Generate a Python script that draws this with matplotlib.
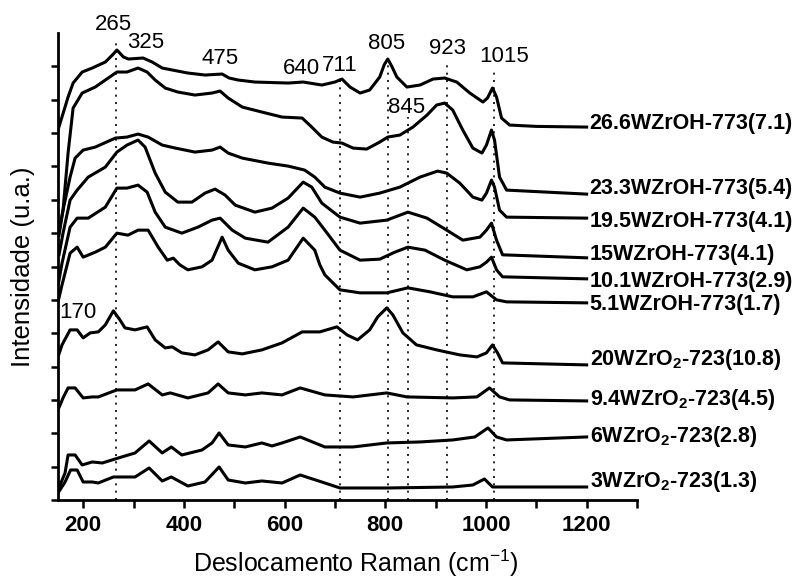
import matplotlib
matplotlib.use("Agg")
import matplotlib.pyplot as plt

plt.rcParams['font.family'] = ['Liberation Sans', 'DejaVu Sans']
plt.rcParams['mathtext.default'] = 'regular'

# Raman shift (cm-1) / stacked intensity (u.a.), top to bottom
wn1 = [150, 170, 180, 198, 218, 244, 258, 267, 280, 290, 319, 337, 357, 377, 408, 442, 476, 490, 508, 541,
       607, 637, 674, 700, 714, 730, 750, 769, 789, 798, 805, 813, 823, 843, 869, 895, 918, 942, 968, 994,
       1003, 1013, 1021, 1031, 1047, 1100, 1200]
in1 = [11.09, 12.08, 12.50, 12.83, 12.95, 13.13, 13.34, 13.49, 13.28, 13.22, 13.25, 13.13, 12.95, 12.89, 12.80,
       12.74, 12.77, 12.65, 12.59, 12.53, 12.50, 12.53, 12.44, 12.53, 12.62, 12.38, 12.20, 12.29, 12.68, 13.05,
       13.22, 13.00, 12.68, 12.38, 12.44, 12.62, 12.65, 12.53, 12.20, 11.93, 12.05, 12.35, 12.08, 11.45, 11.24,
       11.20, 11.18]

wn2 = [152, 160, 170, 180, 198, 224, 244, 267, 287, 309, 327, 343, 363, 388, 422, 456, 472, 488, 516, 555,
       595, 635, 654, 674, 696, 714, 736, 763, 789, 805, 829, 855, 883, 902, 918, 934, 954, 974, 992, 1001,
       1011, 1017, 1027, 1041, 1200]
in2 = [7.94, 8.69, 10.40, 11.75, 12.20, 12.38, 12.59, 12.83, 12.83, 12.95, 12.83, 12.59, 12.35, 12.23, 12.14,
       12.20, 12.26, 12.05, 11.78, 11.63, 11.48, 11.45, 11.18, 10.88, 10.73, 10.70, 10.55, 10.52, 10.73, 10.88,
       10.94, 11.18, 11.54, 11.84, 11.90, 11.69, 11.09, 10.55, 10.40, 10.64, 11.09, 10.79, 9.68, 9.29, 9.17]

wn3 = [152, 160, 174, 184, 200, 224, 264, 287, 309, 329, 357, 383, 422, 456, 472, 488, 516, 567, 607, 640,
       660, 680, 710, 750, 789, 829, 869, 904, 922, 948, 974, 992, 1001, 1011, 1017, 1027, 1041, 1200]
in3 = [8.09, 8.69, 9.68, 10.25, 10.49, 10.58, 10.85, 10.88, 10.97, 10.88, 10.64, 10.55, 10.43, 10.49, 10.58,
       10.40, 10.25, 10.10, 10.01, 9.89, 9.68, 9.38, 9.20, 9.08, 9.20, 9.38, 9.68, 9.86, 9.80, 9.50,
       9.08, 8.99, 9.20, 9.59, 9.38, 8.69, 8.48, 8.45]

wn4 = [152, 160, 174, 188, 210, 244, 267, 287, 309, 323, 343, 363, 388, 416, 442, 462, 482, 502, 541, 575,
       607, 637, 654, 674, 710, 750, 803, 845, 883, 922, 954, 988, 1001, 1011, 1021, 1033, 1200]
in4 = [7.35, 8.00, 8.99, 9.29, 9.68, 9.98, 10.43, 10.64, 10.79, 10.58, 9.80, 9.23, 8.93, 8.93, 9.20,
       9.32, 9.14, 8.84, 8.63, 8.75, 9.05, 9.53, 9.38, 8.90, 8.48, 8.30, 8.39, 8.63, 8.45, 8.09,
       7.79, 7.88, 8.09, 8.30, 7.79, 7.35, 7.26]

wn5 = [151, 158, 174, 188, 210, 244, 267, 287, 309, 327, 343, 363, 396, 428, 456, 472, 496, 522, 567, 607,
       637, 660, 680, 710, 750, 789, 819, 845, 879, 918, 962, 988, 1001, 1011, 1021, 1033, 1200]
in5 = [6.50, 7.10, 8.18, 8.45, 8.45, 8.78, 9.35, 9.35, 9.44, 9.23, 8.63, 8.18, 8.00, 8.18, 8.39,
       8.45, 8.09, 7.85, 7.73, 8.18, 8.75, 8.48, 8.09, 7.49, 7.19, 7.22, 7.43, 7.58, 7.49, 7.19,
       6.90, 6.99, 7.13, 7.28, 6.90, 6.69, 6.63]

wn6 = [151, 158, 174, 188, 200, 224, 244, 267, 289, 309, 329, 349, 367, 379, 392, 408, 436, 456, 476, 488,
       508, 541, 575, 607, 637, 660, 670, 680, 710, 750, 803, 845, 889, 934, 974, 1001, 1021, 1041, 1200]
in6 = [6.00, 6.45, 7.40, 7.58, 7.28, 7.43, 7.58, 8.00, 7.94, 8.09, 8.09, 7.58, 7.19, 7.25, 7.05,
       6.90, 6.99, 7.19, 7.88, 7.49, 7.10, 6.90, 6.99, 7.19, 7.85, 7.49, 7.05, 6.75, 6.30, 6.21,
       6.21, 6.36, 6.24, 6.09, 6.09, 6.24, 6.00, 5.94, 5.91]

wn7 = [150, 158, 174, 188, 200, 214, 230, 244, 260, 273, 283, 303, 327, 343, 363, 377, 396, 422, 448, 468,
       488, 516, 555, 595, 635, 670, 704, 724, 745, 769, 785, 803, 815, 835, 862, 902, 948, 982, 1001, 1013,
       1023, 1033, 1200]
in7 = [4.29, 4.65, 5.10, 5.10, 4.86, 5.01, 5.04, 5.25, 5.67, 5.40, 5.16, 5.10, 5.19, 4.80, 4.56,
       4.59, 4.41, 4.35, 4.50, 4.74, 4.44, 4.38, 4.50, 4.71, 5.04, 5.04, 5.19, 4.95, 4.80, 5.10,
       5.49, 5.76, 5.55, 5.01, 4.65, 4.50, 4.35, 4.29, 4.41, 4.65, 4.41, 4.11, 4.05]

wn8 = [150, 160, 170, 184, 200, 218, 230, 267, 303, 329, 357, 373, 408, 448, 468, 488, 522, 555, 595, 631,
       680, 736, 803, 843, 934, 982, 1007, 1027, 1047, 1200]
in8 = [2.70, 3.06, 3.36, 3.36, 3.06, 3.09, 3.09, 3.30, 3.30, 3.48, 3.15, 3.21, 3.06, 3.21, 3.48,
       3.21, 3.15, 3.21, 3.15, 3.36, 3.15, 3.09, 3.21, 3.09, 3.06, 3.09, 3.36, 3.09, 3.00, 2.97]

wn9 = [150, 164, 170, 184, 198, 218, 238, 270, 303, 331, 357, 375, 396, 436, 456, 470, 488, 522, 555, 575,
       595, 631, 680, 736, 803, 869, 934, 978, 1004, 1021, 1041, 1200]
in9 = [0.30, 0.81, 1.35, 1.35, 1.05, 1.14, 1.11, 1.26, 1.41, 1.77, 1.41, 1.59, 1.35, 1.50, 1.71,
       2.01, 1.65, 1.59, 1.71, 1.62, 1.71, 1.89, 1.59, 1.59, 1.71, 1.74, 1.80, 1.89, 2.16, 1.89,
       1.80, 1.89]

wn10 = [150, 164, 175, 188, 200, 218, 230, 260, 303, 331, 357, 375, 408, 442, 470, 488, 522, 555, 595, 631,
        680, 710, 803, 934, 974, 997, 1013, 1200]
in10 = [0.21, 0.54, 0.90, 0.90, 0.54, 0.54, 0.51, 0.69, 0.69, 0.96, 0.57, 0.69, 0.42, 0.54, 0.99,
        0.60, 0.51, 0.57, 0.51, 0.75, 0.51, 0.36, 0.36, 0.39, 0.45, 0.63, 0.39, 0.39]

samples = ['26.6WZrOH-773(7.1)', '23.3WZrOH-773(5.4)', '19.5WZrOH-773(4.1)', '15WZrOH-773(4.1)',
           '10.1WZrOH-773(2.9)', '5.1WZrOH-773(1.7)', '20WZrO$_2$-723(10.8)', '9.4WZrO$_2$-723(4.5)',
           '6WZrO$_2$-723(2.8)', '3WZrO$_2$-723(1.3)']

# marked bands
bands = [265, 711, 805, 845, 923, 1015]
peak_names = ['265', '325', '475', '640', '711', '805', '923', '1015', '845', '170']

# layout of annotations
label_y = [11.12, 9.17, 8.18, 7.19, 6.39, 5.70, 4.05, 2.85, 1.74, 0.39]
band_top = [13.79, 12.74, 13.34, 11.48, 13.04, 12.89]
peak_pos = [(260, 14.24), (325, 13.73), (472, 13.25), (634, 12.95), (710, 13.04),
            (803, 13.70), (924, 13.55), (1037, 13.31), (843, 11.78), (190, 5.61)]

curves = [(wn1, in1), (wn2, in2), (wn3, in3), (wn4, in4), (wn5, in5),
          (wn6, in6), (wn7, in7), (wn8, in8), (wn9, in9), (wn10, in10)]

fig = plt.figure(figsize=(7.97, 5.78), dpi=100)
ax = fig.add_axes([58 / 797, 1 - 500 / 578, (637 - 58) / 797, (500 - 33) / 578])

ax.vlines(bands, 0, band_top, colors='black', linewidth=1.2, linestyles=[(0, (1.2, 3.2))])

for (w, y), name, ly in zip(curves, samples, label_y):
    ax.plot(w, y, color='black', linewidth=2.2, solid_joinstyle='round')
    ax.text(1206, ly, name, fontsize=15.5, fontweight='bold', ha='left', va='baseline')

for name, (px, py) in zip(peak_names, peak_pos):
    ax.text(px, py, name, fontsize=16, ha='center', va='center')

ax.set_xlim(150, 1300)
ax.set_ylim(0, 14)
ax.set_xticks(range(200, 1201, 200))
ax.set_xticks([300, 500, 700, 900, 1100, 1300], minor=True)
ax.set_yticks(range(0, 14))
ax.tick_params(axis='y', labelleft=False, direction='out', length=5, width=1.8)
ax.tick_params(axis='x', which='both', direction='out', length=6, width=1.8, labelsize=16, pad=5)
for lbl in ax.get_xticklabels():
    lbl.set_fontweight('bold')

for side in ['top', 'right']:
    ax.spines[side].set_visible(False)
for side in ['left', 'bottom']:
    ax.spines[side].set_linewidth(2)

ax.set_xlabel('Deslocamento Raman (cm$^{-1}$)', fontsize=18)
ax.xaxis.label.set_verticalalignment('baseline')
ax.xaxis.set_label_coords(0.515, -0.154)
ax.set_ylabel('Intensidade (u.a.)', fontsize=18.5)
ax.yaxis.set_label_coords(-0.04, 0.5)

fig.savefig('out.png', dpi=100)
